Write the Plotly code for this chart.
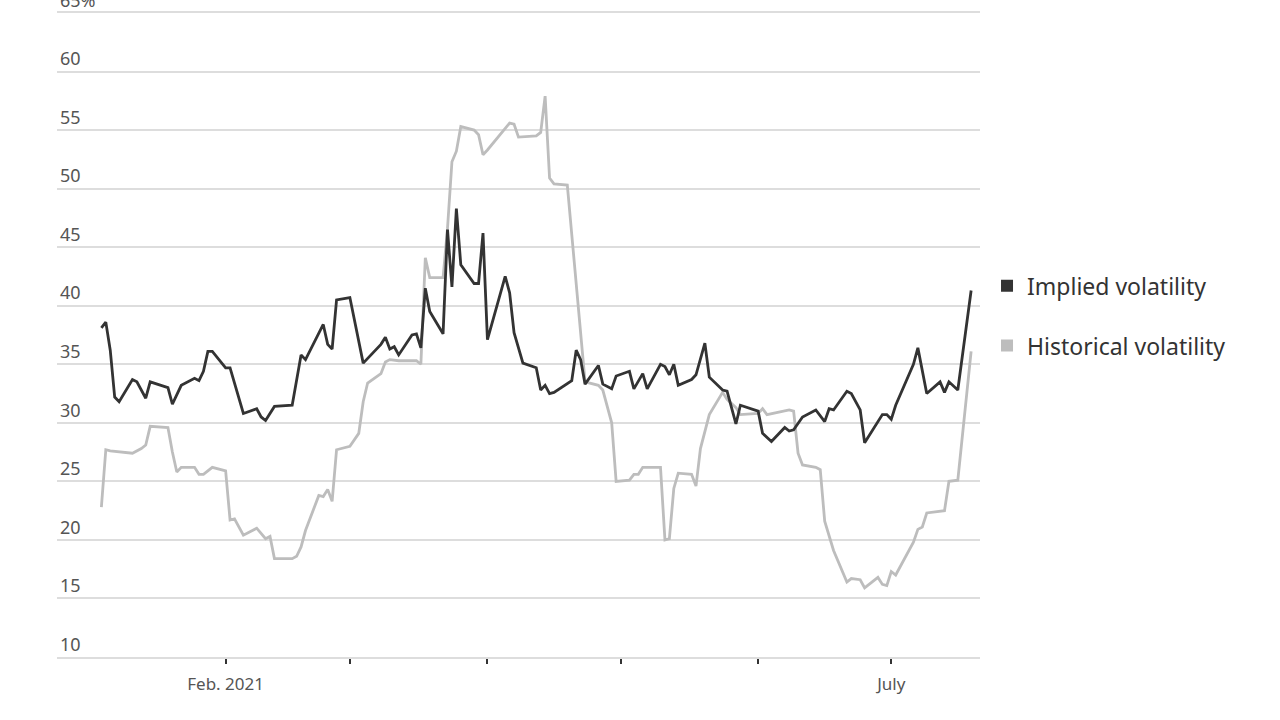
import plotly.graph_objects as go

# Implied volatility (trading-day readings)
iv_dates = [
    "2021-01-04", "2021-01-05", "2021-01-06", "2021-01-07", "2021-01-08",
    "2021-01-11", "2021-01-12", "2021-01-14", "2021-01-15", "2021-01-19",
    "2021-01-20", "2021-01-22", "2021-01-25", "2021-01-26", "2021-01-27",
    "2021-01-28", "2021-01-29",
    "2021-02-01", "2021-02-02", "2021-02-05", "2021-02-08", "2021-02-09",
    "2021-02-10", "2021-02-12", "2021-02-16", "2021-02-18", "2021-02-19",
    "2021-02-23", "2021-02-24", "2021-02-25", "2021-02-26",
    "2021-03-01", "2021-03-04", "2021-03-08", "2021-03-09", "2021-03-10",
    "2021-03-11", "2021-03-12", "2021-03-15", "2021-03-16", "2021-03-17",
    "2021-03-18", "2021-03-19", "2021-03-22", "2021-03-23", "2021-03-24",
    "2021-03-25", "2021-03-26", "2021-03-29", "2021-03-30", "2021-03-31",
    "2021-04-01", "2021-04-05", "2021-04-06", "2021-04-07", "2021-04-09",
    "2021-04-12", "2021-04-13", "2021-04-14", "2021-04-15", "2021-04-16",
    "2021-04-19", "2021-04-20", "2021-04-21", "2021-04-22", "2021-04-23",
    "2021-04-26", "2021-04-27", "2021-04-29", "2021-04-30",
    "2021-05-03", "2021-05-04", "2021-05-06", "2021-05-07", "2021-05-10",
    "2021-05-11", "2021-05-12", "2021-05-13", "2021-05-14", "2021-05-17",
    "2021-05-18", "2021-05-20", "2021-05-21", "2021-05-24", "2021-05-25",
    "2021-05-27", "2021-05-28",
    "2021-06-01", "2021-06-02", "2021-06-04", "2021-06-07", "2021-06-08",
    "2021-06-09", "2021-06-11", "2021-06-14", "2021-06-16", "2021-06-17",
    "2021-06-18", "2021-06-21", "2021-06-22", "2021-06-24", "2021-06-25",
    "2021-06-29", "2021-06-30",
    "2021-07-01", "2021-07-02", "2021-07-06", "2021-07-07", "2021-07-09",
    "2021-07-12", "2021-07-13", "2021-07-14", "2021-07-16", "2021-07-19",
]
iv_values = [
    38.1, 38.6, 36.2, 32.2, 31.8,
    33.7, 33.5, 32.1, 33.5, 33.0,
    31.6, 33.2, 33.8, 33.6, 34.4,
    36.1, 36.1,
    34.7, 34.7, 30.8, 31.2, 30.5,
    30.2, 31.4, 31.5, 35.8, 35.4,
    38.4, 36.7, 36.3, 40.5,
    40.7, 35.1, 36.7, 37.3, 36.3,
    36.5, 35.8, 37.5, 37.6, 36.4,
    41.5, 39.5, 37.6, 46.5, 41.6,
    48.3, 43.5, 41.9, 41.9, 46.2,
    37.1, 42.5, 41.1, 37.7, 35.1,
    34.7, 32.8, 33.2, 32.5, 32.6,
    33.3, 33.6, 36.2, 35.4, 33.3,
    34.9, 33.3, 32.9, 34.0,
    34.4, 32.9, 34.2, 32.9, 35.0,
    34.8, 34.1, 35.0, 33.2, 33.7,
    34.1, 36.8, 33.9, 32.8, 32.7,
    29.9, 31.5,
    31.0, 29.1, 28.4, 29.6, 29.3,
    29.4, 30.5, 31.1, 30.1, 31.2,
    31.1, 32.7, 32.5, 31.1, 28.3,
    30.7, 30.7,
    30.3, 31.5, 35.0, 36.4, 32.5,
    33.5, 32.6, 33.5, 32.8, 41.3,
]

# Historical volatility
hv_dates = [
    "2021-01-04", "2021-01-05", "2021-01-06", "2021-01-11", "2021-01-13",
    "2021-01-14", "2021-01-15", "2021-01-19", "2021-01-20", "2021-01-21",
    "2021-01-22", "2021-01-25", "2021-01-26", "2021-01-27", "2021-01-29",
    "2021-02-01", "2021-02-02", "2021-02-03", "2021-02-05", "2021-02-08",
    "2021-02-10", "2021-02-11", "2021-02-12", "2021-02-16", "2021-02-17",
    "2021-02-18", "2021-02-19", "2021-02-22", "2021-02-23", "2021-02-24",
    "2021-02-25", "2021-02-26",
    "2021-03-01", "2021-03-02", "2021-03-03", "2021-03-04", "2021-03-05",
    "2021-03-08", "2021-03-09", "2021-03-10", "2021-03-12", "2021-03-16",
    "2021-03-17", "2021-03-18", "2021-03-19", "2021-03-22", "2021-03-23",
    "2021-03-24", "2021-03-25", "2021-03-26", "2021-03-29", "2021-03-30",
    "2021-03-31",
    "2021-04-01", "2021-04-05", "2021-04-06", "2021-04-07", "2021-04-08",
    "2021-04-12", "2021-04-13", "2021-04-14", "2021-04-15", "2021-04-16",
    "2021-04-19", "2021-04-23", "2021-04-26", "2021-04-27", "2021-04-29",
    "2021-04-30",
    "2021-05-03", "2021-05-04", "2021-05-05", "2021-05-06", "2021-05-10",
    "2021-05-11", "2021-05-12", "2021-05-13", "2021-05-14", "2021-05-17",
    "2021-05-18", "2021-05-19", "2021-05-20", "2021-05-21", "2021-05-24",
    "2021-05-25", "2021-05-27", "2021-05-28",
    "2021-06-01", "2021-06-02", "2021-06-03", "2021-06-08", "2021-06-09",
    "2021-06-10", "2021-06-11", "2021-06-14", "2021-06-15", "2021-06-16",
    "2021-06-18", "2021-06-21", "2021-06-22", "2021-06-24", "2021-06-25",
    "2021-06-28", "2021-06-29", "2021-06-30",
    "2021-07-01", "2021-07-02", "2021-07-06", "2021-07-07", "2021-07-08",
    "2021-07-09", "2021-07-13", "2021-07-14", "2021-07-16", "2021-07-19",
]
hv_values = [
    22.8, 27.7, 27.6, 27.4, 27.8,
    28.1, 29.7, 29.6, 27.5, 25.8,
    26.2, 26.2, 25.6, 25.6, 26.2,
    25.9, 21.7, 21.8, 20.4, 21.0,
    20.1, 20.3, 18.4, 18.4, 18.6,
    19.4, 20.8, 23.8, 23.7, 24.3,
    23.3, 27.7,
    28.0, 28.6, 29.1, 31.8, 33.4,
    34.2, 35.2, 35.4, 35.3, 35.3,
    35.0, 44.1, 42.4, 42.4, 46.6,
    52.3, 53.2, 55.3, 55.0, 54.6,
    52.9,
    53.3, 55.2, 55.6, 55.5, 54.4,
    54.5, 54.8, 57.9, 50.9, 50.4,
    50.3, 33.5, 33.2, 32.8, 30.0,
    25.0,
    25.1, 25.6, 25.6, 26.2, 26.2,
    20.0, 20.1, 24.4, 25.7, 25.6,
    24.6, 27.8, 29.3, 30.7, 32.6,
    32.0, 31.3, 30.7,
    30.8, 31.2, 30.7, 31.1, 31.0,
    27.4, 26.4, 26.2, 26.0, 21.6,
    19.1, 16.4, 16.7, 16.6, 15.9,
    16.8, 16.2, 16.1,
    17.3, 17.0, 19.8, 20.9, 21.1,
    22.3, 22.5, 25.0, 25.1, 36.1,
]

assert len(iv_dates) == len(iv_values)
assert len(hv_dates) == len(hv_values)

series_names = ["Implied volatility", "Historical volatility"]
series_colors = ["#333333", "#bdbdbd"]

y_ticks = [10, 15, 20, 25, 30, 35, 40, 45, 50, 55, 60, 65]
y_ticktext = ["10", "15", "20", "25", "30", "35", "40", "45", "50", "55", "60", "65%"]
x_ticks = ["2021-02-01", "2021-03-01", "2021-04-01", "2021-05-01", "2021-06-01", "2021-07-01"]
x_ticktext = ["Feb. 2021", "", "", "", "", "July"]

FONT = "Noto Sans"

fig = go.Figure()

# historical underneath, implied on top
fig.add_trace(go.Scatter(
    x=hv_dates, y=hv_values, mode="lines", showlegend=False,
    line=dict(color=series_colors[1], width=2.8),
))
fig.add_trace(go.Scatter(
    x=iv_dates, y=iv_values, mode="lines", showlegend=False,
    line=dict(color=series_colors[0], width=2.8),
))

# square legend keys
for i, (name, color) in enumerate(zip(series_names, series_colors)):
    fig.add_trace(go.Scatter(
        x=[None], y=[None], mode="markers", name=name,
        legendgroup=f"g{i}",
        marker=dict(symbol="square", size=17, color=color),
    ))

fig.update_layout(
    width=1280, height=720,
    margin=dict(l=57, r=300, t=13, b=63),
    plot_bgcolor="white", paper_bgcolor="white",
    font=dict(family=FONT, color="#555555", size=16),
    legend=dict(
        x=1.0076, xanchor="left", y=0.53, yanchor="middle",
        font=dict(size=23, color="#333333", family=FONT),
        tracegroupgap=27, itemsizing="constant",
        bgcolor="rgba(0,0,0,0)",
    ),
    xaxis=dict(
        range=["2020-12-25", "2021-07-21"],
        tickvals=x_ticks, ticktext=x_ticktext,
        ticks="outside", ticklen=5, tickwidth=1.5, tickcolor="#333333",
        ticklabelstandoff=6,
        showgrid=False, zeroline=False,
        showline=True, mirror=True, linecolor="#dddddd", linewidth=1.5,
        tickfont=dict(size=17, color="#555555"),
        automargin=False,
    ),
    yaxis=dict(
        range=[10, 65],
        tickvals=y_ticks, ticktext=y_ticktext,
        ticklabelposition="inside top", ticklabeloverflow="allow",
        showgrid=True, gridcolor="#dddddd", gridwidth=1.5,
        zeroline=False, showline=False, ticks="",
        tickfont=dict(size=18, color="#555555"),
        automargin=False,
    ),
)

# drop the default 8px body margin so the figure sits at the window corner
fig.write_html(
    "out.html",
    config={"displayModeBar": False},
    post_script="document.body.style.margin = '0px';",
)
